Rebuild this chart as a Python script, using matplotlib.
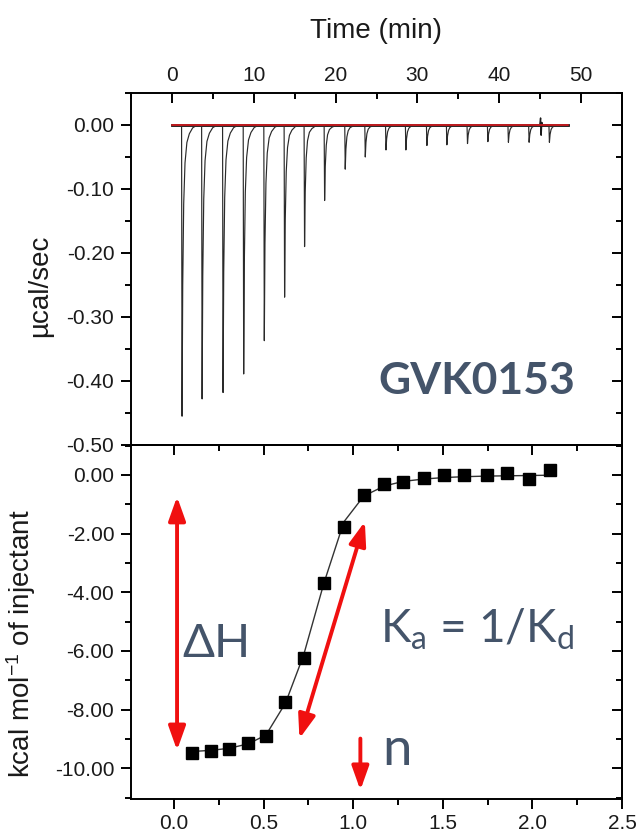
import matplotlib
matplotlib.use("Agg")
import matplotlib.pyplot as plt
from matplotlib.ticker import MultipleLocator

plt.rcParams['font.family'] = ['Liberation Sans', 'DejaVu Sans']
plt.rcParams['mathtext.default'] = 'regular'

# ---------------- data ----------------
# raw thermogram (top panel)
inj_times = [1.18, 3.63, 6.19, 8.71, 11.23, 13.71, 16.15, 18.60, 21.12, 23.57,
             26.10, 28.53, 31.10, 33.54, 36.06, 38.55, 41.06, 43.59, 46.07]
peak_depths = [0.455, 0.428, 0.418, 0.389, 0.337, 0.269, 0.190, 0.118, 0.069, 0.050,
               0.039, 0.039, 0.032, 0.031, 0.029, 0.026, 0.027, 0.027, 0.027]
# peak profile: minutes after injection, fraction of depth
shape_t = [0.0, 0.06, 0.14, 0.26, 0.42, 0.65, 0.95, 1.35, 1.9]
shape_f = [0.0, 1.0, 0.55, 0.27, 0.13, 0.06, 0.03, 0.01, 0.0]
trace_start, trace_end = 0.0, 48.4
spike_t = [44.95, 45.05, 45.12, 45.2, 45.3]
spike_y = [0.0, 0.011, -0.016, 0.004, 0.0]

# integrated heats (bottom panel)
molar_ratio = [0.103, 0.209, 0.308, 0.414, 0.513, 0.622, 0.723, 0.836, 0.948, 1.059,
               1.173, 1.279, 1.395, 1.507, 1.621, 1.746, 1.861, 1.983, 2.100]
heat = [-9.47, -9.41, -9.35, -9.13, -8.90, -7.73, -6.23, -3.67, -1.76, -0.68,
        -0.32, -0.24, -0.09, -0.01, 0.00, 0.00, 0.06, -0.13, 0.17]
fit = [-9.43, -9.39, -9.32, -9.17, -8.87, -7.78, -6.15, -3.70, -1.60, -0.72,
       -0.38, -0.22, -0.14, -0.09, -0.06, -0.04, -0.03, -0.02, -0.01]

top_xticks = [0, 10, 20, 30, 40, 50]
top_yticks = [0.0, -0.1, -0.2, -0.3, -0.4, -0.5]
bot_xticks = [0.0, 0.5, 1.0, 1.5, 2.0, 2.5]
bot_yticks = [0, -2, -4, -6, -8, -10]

# ---------------- figure ----------------
W, H = 638, 834
fig = plt.figure(figsize=(W / 100, H / 100), dpi=100)
L, R = 131, 622
ax1 = fig.add_axes([L / W, (H - 445) / H, (R - L) / W, (445 - 93) / H])
ax2 = fig.add_axes([L / W, (H - 799) / H, (R - L) / W, (799 - 445) / H])

txt_col = '#1a1a1a'
slate = '#44546A'
tick_fs = 15
lab_fs = 20
spine_lw = 1.4
maj_len, min_len = 7, 4

for ax in (ax1, ax2):
    for s in ax.spines.values():
        s.set_linewidth(spine_lw)

# ---- top panel trace ----
tt = [trace_start]
yy = [0.0]
for t0, d in zip(inj_times, peak_depths):
    for st, sf in zip(shape_t, shape_f):
        tt.append(t0 + st)
        yy.append(-d * sf)
tt.append(trace_end)
yy.append(0.0)
ax1.plot([trace_start, trace_end], [0, 0], color='#111111', lw=2.0, zorder=2)
ax1.plot(tt, yy, color='#2a2a2a', lw=0.85, zorder=3)
ax1.plot(spike_t, spike_y, color='#1a1a1a', lw=1.0, zorder=3)
ax1.plot([trace_start, trace_end], [0, 0], color='#e8191e', lw=1.1, zorder=4)

ax1.set_xticks(top_xticks)
ax1.set_xticklabels([str(v) for v in top_xticks])
ax1.xaxis.set_minor_locator(MultipleLocator(5))
ax1.set_yticks(top_yticks)
ax1.set_yticklabels(['%.2f' % v if v != 0 else '0.00' for v in top_yticks])
ax1.yaxis.set_minor_locator(MultipleLocator(0.05))
ax1.set_xlim(-5, 55)
ax1.set_ylim(-0.5, 0.05)

ax1.tick_params(axis='x', which='both', top=True, bottom=False, labeltop=True,
                labelbottom=False, direction='in', width=spine_lw, labelsize=tick_fs,
                labelcolor=txt_col, pad=6)
ax1.tick_params(axis='x', which='major', length=maj_len)
ax1.tick_params(axis='x', which='minor', length=min_len)
ax1.tick_params(axis='y', which='both', left=True, right=False, direction='out',
                width=spine_lw, labelsize=tick_fs, labelcolor=txt_col, pad=5)
ax1.tick_params(axis='y', which='major', length=maj_len)
ax1.tick_params(axis='y', which='minor', length=min_len)

sec1 = ax1.secondary_yaxis('right')
sec1.yaxis.set_major_locator(MultipleLocator(0.1))
sec1.yaxis.set_minor_locator(MultipleLocator(0.05))
sec1.tick_params(which='both', direction='in', labelright=False, width=spine_lw)
sec1.tick_params(which='major', length=maj_len)
sec1.tick_params(which='minor', length=min_len)
sec1.spines['right'].set_linewidth(spine_lw)

ax1.xaxis.set_label_position('top')
ax1.set_xlabel('Time (min)', fontsize=lab_fs, color=txt_col)
ax1.xaxis.set_label_coords(0.5, 1.157)
ax1.set_ylabel('µcal/sec', fontsize=lab_fs, color=txt_col)
ax1.yaxis.set_label_coords(-0.159, 0.452)

ax1.text(25.2, -0.42, 'GVK0153', fontsize=32, fontweight='bold', color=slate,
         family=['Lato', 'DejaVu Sans'], ha='left', va='baseline')

# ---- bottom panel ----
ax2.plot(molar_ratio, fit, color='#333333', lw=1.0, zorder=3)
ax2.plot(molar_ratio, heat, linestyle='none', marker='s', markersize=8.5,
         color='black', zorder=4)

ax2.set_xticks(bot_xticks)
ax2.set_xticklabels(['%.1f' % v for v in bot_xticks])
ax2.xaxis.set_minor_locator(MultipleLocator(0.25))
ax2.set_yticks(bot_yticks)
ax2.set_yticklabels(['%.2f' % v if v != 0 else '0.00' for v in bot_yticks])
ax2.yaxis.set_minor_locator(MultipleLocator(1))
ax2.set_xlim(-0.24, 2.5)
ax2.set_ylim(-11.05, 1.02)

ax2.tick_params(axis='x', which='both', top=False, bottom=True, direction='out',
                width=spine_lw, labelsize=tick_fs, labelcolor=txt_col, pad=4)
ax2.tick_params(axis='y', which='both', left=True, right=False, direction='out',
                width=spine_lw, labelsize=tick_fs, labelcolor=txt_col, pad=5)
ax2.tick_params(which='major', length=maj_len)
ax2.tick_params(which='minor', length=min_len)

sec2y = ax2.secondary_yaxis('right')
sec2y.yaxis.set_major_locator(MultipleLocator(2))
sec2y.yaxis.set_minor_locator(MultipleLocator(1))
sec2y.tick_params(which='both', direction='in', labelright=False, width=spine_lw)
sec2y.tick_params(which='major', length=maj_len)
sec2y.tick_params(which='minor', length=min_len)
sec2y.spines['right'].set_linewidth(spine_lw)

sec2x = ax2.secondary_xaxis('top')
sec2x.xaxis.set_major_locator(MultipleLocator(0.5))
sec2x.xaxis.set_minor_locator(MultipleLocator(0.25))
sec2x.tick_params(which='both', direction='in', labeltop=False, width=spine_lw)
sec2x.tick_params(which='major', length=maj_len)
sec2x.tick_params(which='minor', length=min_len)
sec2x.spines['top'].set_linewidth(spine_lw)

ax2.set_ylabel('kcal mol$^{-1}$ of injectant', fontsize=lab_fs, color=txt_col)
ax2.yaxis.set_label_coords(-0.189, 0.438)

# annotations
red = '#f01010'
dbl = '<|-|>,head_length=0.9,head_width=0.32'
ax2.annotate('', xy=(0.017, -0.74), xytext=(0.017, -9.39),
             arrowprops=dict(arrowstyle=dbl, color=red, lw=2.8, mutation_scale=16,
                             shrinkA=0, shrinkB=0))
ax2.annotate('', xy=(1.065, -1.59), xytext=(0.70, -8.99),
             arrowprops=dict(arrowstyle=dbl, color=red, lw=2.8, mutation_scale=16,
                             shrinkA=0, shrinkB=0))
ax2.annotate('', xy=(1.04, -10.75), xytext=(1.04, -8.99),
             arrowprops=dict(arrowstyle='-|>,head_length=0.9,head_width=0.32',
                             color=red, lw=2.8, mutation_scale=16,
                             shrinkA=0, shrinkB=0))

ann_font = ['Lato', 'DejaVu Sans']
ax2.text(0.045, -6.21, 'ΔH', fontsize=34, color=slate, family=ann_font,
         ha='left', va='baseline')
ax2.text(1.149, -5.73, 'K$_a$ = 1/K$_d$', fontsize=33, color=slate, family=ann_font,
         ha='left', va='baseline')
ax2.text(1.16, -9.90, 'n', fontsize=38, color=slate, family=ann_font,
         ha='left', va='baseline')

fig.savefig('out.png', dpi=100)
